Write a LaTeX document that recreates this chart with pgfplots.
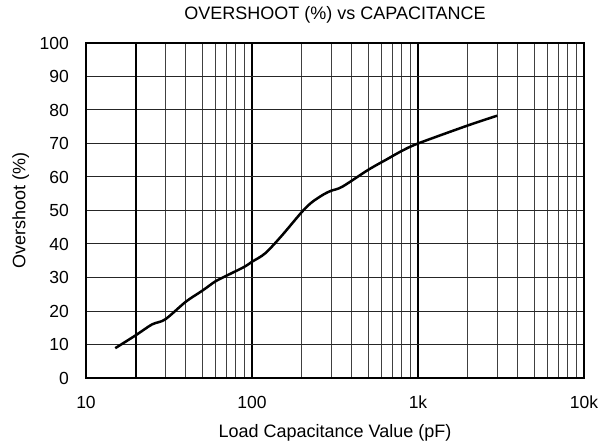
\documentclass[border=0pt]{standalone}
\usepackage{fontspec}
\setmainfont{Liberation Sans}
\usepackage{pgfplots}
\pgfplotsset{compat=1.18}
\begin{document}
\fontsize{18bp}{21bp}\selectfont
\begin{tikzpicture}
\begin{axis}[
  scale only axis,
  width=498bp, height=335bp,
  xmode=log, log basis x=10,
  xmin=10, xmax=10000, ymin=0, ymax=100,
  xtick={10,100,1000,10000},
  xticklabels={10,100,1k,10k},
  minor xtick={20,30,40,50,60,70,80,90,200,300,400,500,600,700,800,900,2000,3000,4000,5000,6000,7000,8000,9000},
  ytick={0,10,...,100},
  /pgf/number format/assume math mode=true,
  major tick length=0pt, minor tick length=0pt,
  grid=both,
  major x grid style={black, line width=2bp},
  minor x grid style={black!75, line width=1bp},
  major y grid style={black!85, line width=1bp},
  axis line style={black, line width=2bp},
  extra x ticks={20},
  extra x tick labels={},
  extra x tick style={grid=major, major x grid style={black, line width=2bp}},
  tick label style={font=\fontsize{17.5bp}{20bp}\selectfont, inner sep=0pt},
  xticklabel style={anchor=center, yshift=-24.5bp},
  yticklabel style={anchor=east, xshift=-17bp},
  title={OVERSHOOT (\%) vs CAPACITANCE},
  title style={at={(axis description cs:0.5,1.0537)}, anchor=base, inner sep=0pt},
  xlabel={Load Capacitance Value (pF)},
  xlabel style={at={(axis description cs:0.5,-0.1782)}, anchor=base, inner sep=0pt},
  ylabel={Overshoot (\%)},
  ylabel style={at={(axis description cs:-0.1215,0.5)}, anchor=base, inner sep=0pt},
  clip=false,
]
\addplot[black, line width=2.5bp, smooth, tension=0.5] coordinates {
(15,8.9) (20,12.8) (25,16) (30,17.5) (40,22.8) (50,26) (60,28.8) (70,30.5)
(90,33.2) (100,34.7) (120,37.2) (150,42.3) (200,49.6) (230,52.5) (270,54.8)
(300,55.9) (350,57.1) (500,62.1) (650,65.3) (800,67.8) (1000,70) (2000,75.4) (3000,78.3)
};
\path ([xshift=-86bp,yshift=-66bp]rel axis cs:0,0) rectangle ([xshift=15bp,yshift=43bp]rel axis cs:1,1);
\end{axis}
\end{tikzpicture}
\end{document}
